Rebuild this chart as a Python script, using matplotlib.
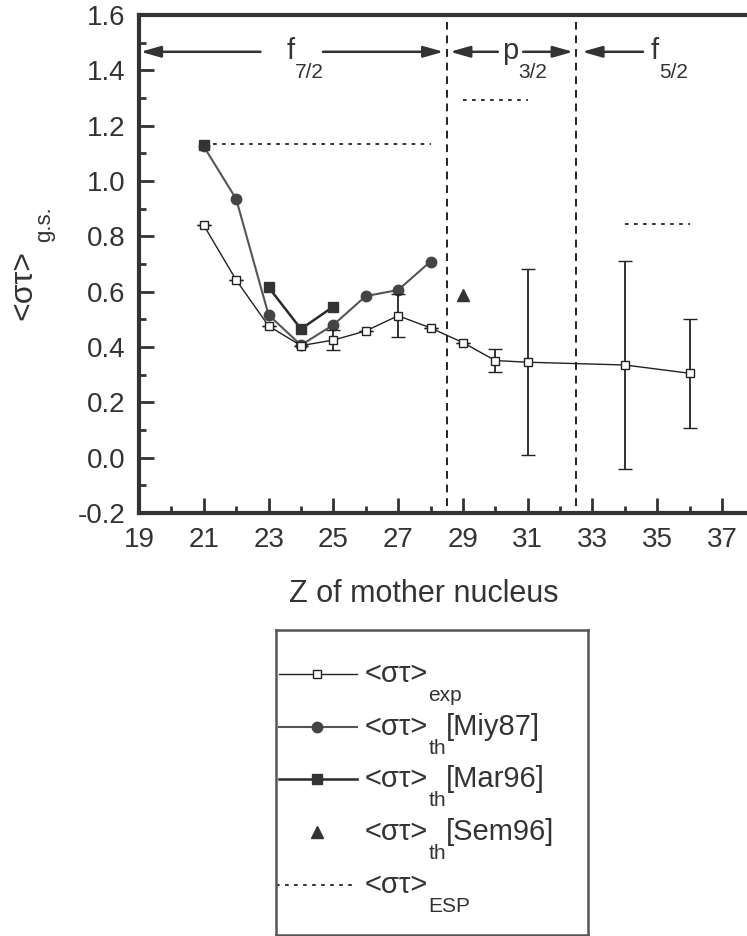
import numpy as np
import matplotlib.pyplot as plt
from matplotlib.ticker import MultipleLocator

plt.rcParams['font.family'] = ['Liberation Sans', 'DejaVu Sans']

INK = '#333333'

# данные: Z материнского ядра и <στ>
z_exp = [21, 22, 23, 24, 25, 26, 27, 28, 29, 30, 31, 34, 36]
st_exp = [0.84, 0.642, 0.476, 0.405, 0.425, 0.458, 0.513, 0.469, 0.416, 0.351, 0.345, 0.335, 0.305]
err_exp = [0.0, 0.0, 0.0, 0.0, 0.035, 0.0, 0.077, 0.0, 0.0, 0.042, 0.336, 0.375, 0.196]

z_miy = [21, 22, 23, 24, 25, 26, 27, 28]
st_miy = [1.125, 0.935, 0.516, 0.407, 0.48, 0.584, 0.606, 0.709]

z_mar = [21, 22, 23, 24, 25]
st_mar = [1.13, np.nan, 0.616, 0.465, 0.546]

z_sem = [29]
st_sem = [0.588]

# ESP: (от Z, до Z, значение)
esp_from = [21, 29, 34]
esp_to = [28, 31, 36]
esp_val = [1.133, 1.293, 0.845]

shell_bounds = [28.5, 32.5]
x_ticks = [19, 21, 23, 25, 27, 29, 31, 33, 35, 37]

fig = plt.figure(figsize=(7.47, 9.36), dpi=100)
ax = fig.add_axes([139 / 747, 1 - 513 / 936, 1 - 139 / 747, 498 / 936])


def sub_text(axis, x, y, main, sub, tail='', size=18, subsize=13, drop=12, coords=None):
    tr = axis.transData if coords is None else coords
    t1 = axis.text(x, y, main, fontsize=size, color=INK, va='center', transform=tr)
    t2 = axis.annotate(sub, xy=(1, 0), xycoords=t1, xytext=(0, -drop),
                       textcoords='offset points', fontsize=subsize, color=INK, va='bottom')
    if tail:
        axis.annotate(tail, xy=(1, 0), xycoords=(t2, t1), fontsize=size, color=INK, va='bottom')


# экспериментальные точки
ax.errorbar(z_exp, st_exp, yerr=err_exp, color='#222222', lw=1.0, marker='s', ms=6,
            mfc='white', mec='#222222', mew=1.0, capsize=5, elinewidth=1.3, capthick=1.3, zorder=4)
ax.plot(z_miy, st_miy, color='#555555', lw=1.5, marker='o', ms=7.5, mfc='#444444', mec='#444444', zorder=3)
ax.plot(z_mar, st_mar, color='#2a2a2a', lw=1.8, marker='s', ms=7, mfc='#333333', mec='#333333', zorder=3)
ax.plot(z_sem, st_sem, ls='none', marker='^', ms=8, color='#333333', zorder=3)
for a, b, v in zip(esp_from, esp_to, esp_val):
    ax.plot([a, b], [v, v], color='#222222', lw=1.3, ls=(0, (2, 3)))

for zb in shell_bounds:
    ax.axvline(zb, color='#222222', lw=1.4, ls=(0, (4, 3)), ymin=0.015, ymax=0.985)

# стрелки оболочек
arr = dict(arrowstyle='-|>,head_length=0.6,head_width=0.17', color='#333333', lw=1.8,
           mutation_scale=20, shrinkA=0, shrinkB=0)
y_arr = 1.467
for tail, head in [(22.75, 19.05), (24.68, 28.4), (30.08, 28.6), (30.86, 32.4), (34.56, 32.68)]:
    ax.annotate('', xy=(head, y_arr), xytext=(tail, y_arr), arrowprops=arr)

sub_text(ax, 23.55, 1.47, 'f', '7/2', size=21, subsize=15, drop=12)
sub_text(ax, 30.2, 1.47, 'p', '3/2', size=21, subsize=15, drop=12)
sub_text(ax, 34.8, 1.47, 'f', '5/2', size=21, subsize=15, drop=12)

ax.set_xlim(19, 37.77)
ax.set_ylim(-0.2, 1.6)
ax.set_xticks(x_ticks)
ax.xaxis.set_minor_locator(MultipleLocator(1))
ax.yaxis.set_major_locator(MultipleLocator(0.2))
ax.yaxis.set_minor_locator(MultipleLocator(0.1))
ax.yaxis.set_major_formatter(plt.FuncFormatter(lambda v, p: f'{v:.1f}'))
ax.tick_params(which='major', direction='in', length=11, width=2, color=INK,
               labelsize=20, labelcolor=INK, pad=10)
ax.tick_params(which='minor', direction='in', length=5, width=2, color=INK)
ax.spines['right'].set_visible(False)
for s in ['left', 'top', 'bottom']:
    ax.spines[s].set_linewidth(3)
    ax.spines[s].set_color(INK)

# подписи осей
fig.text(424 / 747, 1 - 594 / 936, 'Z of mother nucleus', fontsize=22, color=INK,
         ha='center', va='center')
fig.text(23 / 747, 1 - 285 / 936, '<στ>', fontsize=23, color=INK, rotation=90,
         ha='center', va='center')
fig.text(45 / 747, 1 - 224 / 936, 'g.s.', fontsize=16, color=INK, rotation=90,
         ha='center', va='center')

# легенда
lax = fig.add_axes([276 / 747, 1 / 936, 312 / 747, 305 / 936])
lax.set_xlim(0, 1)
lax.set_ylim(0, 1)
lax.set_xticks([])
lax.set_yticks([])
for s in lax.spines.values():
    s.set_linewidth(1.8)
    s.set_color('#555555')

rows = [0.856, 0.682, 0.511, 0.338, 0.164]
hx = [0.01, 0.26]
mx = 0.131
lax.plot(hx, [rows[0]] * 2, color='#222222', lw=1.0)
lax.plot(mx, rows[0], marker='s', ms=6, mfc='white', mec='#222222', mew=1.0)
lax.plot(hx, [rows[1]] * 2, color='#555555', lw=1.5)
lax.plot(mx, rows[1], marker='o', ms=7.5, color='#444444')
lax.plot(hx, [rows[2]] * 2, color='#2a2a2a', lw=1.8)
lax.plot(mx, rows[2], marker='s', ms=7, color='#333333')
lax.plot(mx, rows[3], marker='^', ms=8, color='#333333')
lax.plot([0.0, 0.26], [rows[4]] * 2, color='#222222', lw=1.3, ls=(0, (2, 3)))

tx = 0.285
labels = [('exp', ''), ('th', '[Miy87]'), ('th', '[Mar96]'), ('th', '[Sem96]'), ('ESP', '')]
for yy, (sb, tl) in zip(rows, labels):
    sub_text(lax, tx, yy, '<στ>', sb, tail=tl, size=21, subsize=15, drop=12,
             coords=lax.transAxes)

fig.savefig('out.png', dpi=100)
